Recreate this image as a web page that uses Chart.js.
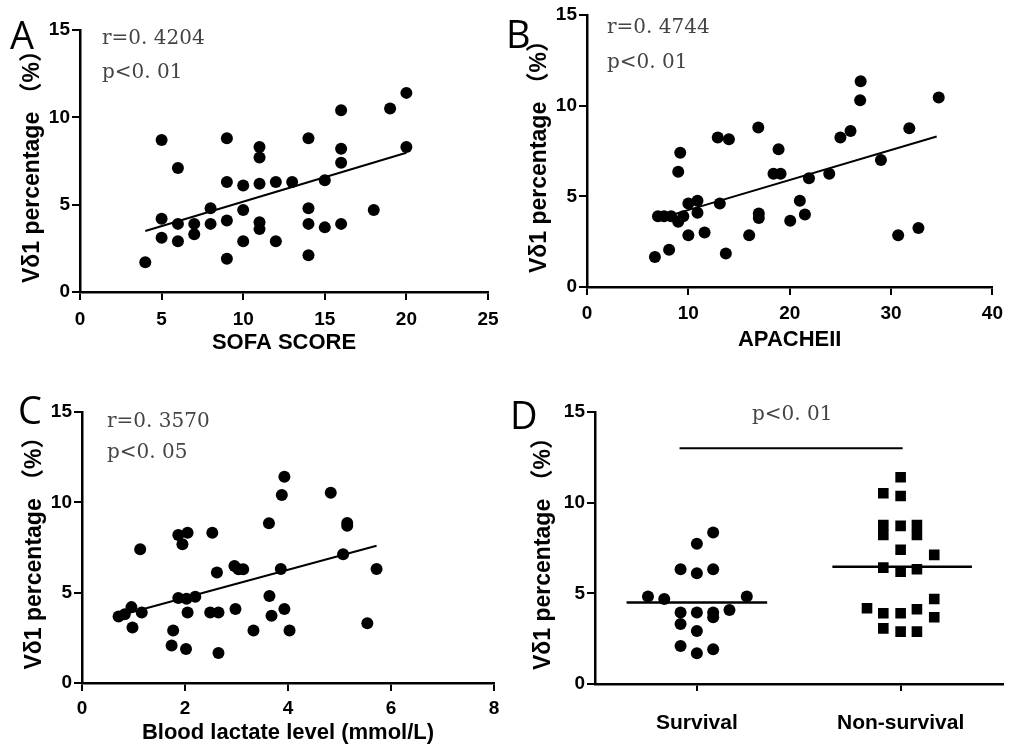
<!DOCTYPE html>
<html><head><meta charset="utf-8">
<script src="https://cdn.jsdelivr.net/npm/chart.js@4.4.0/dist/chart.umd.min.js"></script>
<style>
html,body{margin:0;padding:0;background:#fff;}
body{width:1010px;height:746px;position:relative;overflow:hidden;}
canvas{position:absolute;}
</style></head><body>
<canvas id="cA" width="508" height="360" style="left:0;top:0"></canvas>
<canvas id="cB" width="505" height="360" style="left:505px;top:0"></canvas>
<canvas id="cC" width="514" height="366" style="left:0;top:380px"></canvas>
<canvas id="cD" width="505" height="366" style="left:505px;top:380px"></canvas>
<script>
// ---------------- data ----------------
const yTicks = [0, 5, 10, 15];
const yTitle = 'Vδ1 percentage （%）';

// A: SOFA score
const sofaX = [4,5,5,5,6,6,6,7,7,8,8,9,9,9,9,10,10,10,11,11,11,11,11,12,12,13,14,14,14,14,15,15,16,16,16,16,18,19,20,20];
const sofaY = [1.7,8.7,4.2,3.1,7.1,3.9,2.9,3.9,3.3,4.8,3.9,8.8,6.3,4.1,1.9,6.1,4.7,2.9,8.3,7.7,6.2,4.0,3.6,6.3,2.9,6.3,8.8,4.8,3.9,2.1,6.4,3.7,10.4,8.2,7.4,3.9,4.7,10.5,11.4,8.3];
const sofaFitX = [4, 20];
const sofaFitY = [3.49, 7.97];

// B: APACHE II
const apacheX = [6.7,8.1,9.2,9.0,7.0,7.6,8.3,9.0,9.5,10.0,10.9,10.9,10.0,11.6,13.1,12.9,14.0,13.7,16.0,16.9,16.95,16.95,18.9,18.4,19.1,20.05,21.0,21.5,21.9,23.9,25.0,26.0,27.0,26.95,29.0,30.7,32.7,31.8,34.7];
const apacheY = [1.65,2.05,7.4,6.35,3.9,3.9,3.9,3.6,3.9,4.6,4.75,4.1,2.85,3.0,4.6,8.25,8.15,1.85,2.85,8.8,4.05,3.8,7.6,6.25,6.25,3.65,4.75,4.0,6.0,6.25,8.25,8.6,11.35,10.3,7.0,2.85,3.25,8.75,10.45];
const apacheFitX = [6.7, 34.5];
const apacheFitY = [3.70, 8.30];

// C: blood lactate
const lactateX = [0.71,0.83,0.96,0.98,1.16,1.13,1.87,2.05,1.95,1.87,2.03,2.2,2.05,1.77,1.74,2.02,2.53,2.62,2.49,2.65,2.65,2.96,3.04,3.13,2.98,3.33,3.93,3.88,4.83,3.63,5.15,5.15,3.86,5.07,5.72,3.64,3.68,3.93,4.03,5.54];
const lactateY = [3.68,3.81,4.2,3.07,3.9,7.4,8.19,8.32,7.68,4.7,4.66,4.78,3.9,2.9,2.08,1.88,8.32,6.11,3.9,3.9,1.66,6.48,6.3,6.3,4.09,2.9,11.41,10.4,10.53,8.84,8.85,8.7,6.31,7.12,6.31,4.82,3.72,4.09,2.9,3.31];
const lactateFitX = [0.71, 5.72];
const lactateFitY = [3.72, 7.60];

// D: outcome groups (x = group position 1 / 3 with the scatter spread)
const groupLabels = ['Survival', 'Non-survival'];
const groupPos = [1, 3];
const survivalX = [0.52,0.68,1.49,1.0,1.16,0.84,1.0,1.16,0.84,1.0,1.16,1.16,1.32,0.84,1.0,0.84,1.0,1.16];
const survivalY = [4.82,4.69,4.82,7.73,8.35,6.33,6.11,6.33,3.94,3.94,3.94,3.68,4.08,3.31,2.92,2.1,1.69,1.91];
const nonSurvivalX = [3.0,2.83,3.0,2.83,2.83,3.0,3.16,3.16,3.0,3.33,2.83,3.0,3.16,2.67,3.33,2.83,3.0,3.16,3.33,2.83,3.0,3.16];
const nonSurvivalY = [11.4,10.52,10.37,8.77,8.22,8.72,8.77,8.22,7.4,7.12,6.42,6.2,6.33,4.18,4.69,3.9,3.9,4.12,3.68,3.07,2.89,2.89];
const survivalMedX = [0.31, 1.69];
const survivalMedY = [4.5, 4.5];
const nonSurvivalMedX = [2.33, 3.70];
const nonSurvivalMedY = [6.46, 6.46];
const sigX = [0.83, 3.02];
const sigY = [13, 13];

// ---------------- helpers ----------------
const SANS = '"Liberation Sans", Arial, "Noto Sans CJK SC", sans-serif';
const SERIF = '"DejaVu Serif", "Liberation Serif", serif';
const pts = (xs, ys) => xs.map((x, i) => ({x: x, y: ys[i]}));

const notesPlugin = {
  id: 'notes',
  afterDatasetsDraw(chart, args, opts) {
    const ctx = chart.ctx, ca = chart.chartArea;
    (opts.items || []).forEach(it => {
      ctx.save();
      ctx.font = it.font;
      ctx.fillStyle = it.color || '#000';
      ctx.textAlign = it.align || 'left';
      ctx.textBaseline = it.baseline || 'middle';
      const x = it.abs ? it.x : ca.left + it.x;
      const y = it.abs ? it.y : ca.top + it.y;
      ctx.fillText(it.text, x, y);
      ctx.restore();
    });
  }
};

function yScale(width, titlePad) {
  return {
    type: 'linear', min: 0, max: 15,
    afterBuildTicks: s => { s.ticks = yTicks.map(v => ({value: v})); },
    ticks: {color: '#000', font: {family: SANS, size: 19, weight: 'bold'}, padding: 2},
    grid: {display: true, drawOnChartArea: false, drawTicks: true, tickLength: 8, color: '#000', lineWidth: 2},
    border: {display: true, color: '#000', width: 2.5},
    title: {display: true, text: yTitle, color: '#000', font: {family: SANS, size: 23, weight: 'bold'}, padding: {top: titlePad, bottom: 0}},
    afterFit: s => { s.width = width; }
  };
}
function xScale(min, max, step, height, title, titlePad, tickPad) {
  return {
    type: 'linear', min: min, max: max,
    ticks: {stepSize: step, color: '#000', font: {family: SANS, size: 19, weight: 'bold'}, padding: tickPad},
    grid: {display: true, drawOnChartArea: false, drawTicks: true, tickLength: 8, color: '#000', lineWidth: 2},
    border: {display: true, color: '#000', width: 2.5},
    title: {display: !!title, text: title, color: '#000', font: {family: SANS, size: 22, weight: 'bold'}, padding: {top: 0, bottom: titlePad}},
    afterFit: s => { s.height = height; }
  };
}
function dotSet(data) {
  return {type: 'scatter', data: data, pointStyle: 'circle', pointRadius: 6, pointBackgroundColor: '#000', pointBorderColor: '#000', pointBorderWidth: 0, showLine: false, order: 0};
}
function lineSet(data, w) {
  return {type: 'line', data: data, borderColor: '#000', borderWidth: w || 2, pointRadius: 0, showLine: true, fill: false, order: 1};
}
function baseOptions(scales, padding, notes) {
  return {
    responsive: false, animation: false, devicePixelRatio: 1,
    layout: {padding: padding},
    scales: scales,
    plugins: {legend: {display: false}, tooltip: {enabled: false}, notes: {items: notes}},
    events: []
  };
}
const noteFont = '20px ' + SERIF;
const letterFont = '38px "Open Sans", "Liberation Sans", sans-serif';

// ---------------- A ----------------
new Chart(document.getElementById('cA'), {
  type: 'scatter',
  data: {datasets: [dotSet(pts(sofaX, sofaY)), lineSet(pts(sofaFitX, sofaFitY))]},
  options: baseOptions({x: xScale(0, 25, 5, 68, 'SOFA SCORE', 4, 8), y: yScale(80, 19)},
    {left: 0, right: 20, top: 30, bottom: 0},
    [{text: 'r=0. 4204', x: 22, y: 9, font: noteFont, color: '#444'},
     {text: 'p<0. 01', x: 22, y: 43, font: noteFont, color: '#444'},
     {text: 'A', x: 10, y: 49, abs: true, font: letterFont, baseline: 'alphabetic'}]),
  plugins: [notesPlugin]
});

// ---------------- B ----------------
new Chart(document.getElementById('cB'), {
  type: 'scatter',
  data: {datasets: [dotSet(pts(apacheX, apacheY)), lineSet(pts(apacheFitX, apacheFitY))]},
  options: baseOptions({x: xScale(0, 40, 10, 73, 'APACHEII', 7, 7), y: yScale(82, 21)},
    {left: 0, right: 12, top: 15, bottom: 0},
    [{text: 'r=0. 4744', x: 20, y: 13, font: noteFont, color: '#444'},
     {text: 'p<0. 01', x: 20, y: 48, font: noteFont, color: '#444'},
     {text: 'B', x: 1, y: 48, abs: true, font: letterFont, baseline: 'alphabetic'}]),
  plugins: [notesPlugin]
});

// ---------------- C ----------------
new Chart(document.getElementById('cC'), {
  type: 'scatter',
  data: {datasets: [dotSet(pts(lactateX, lactateY)), lineSet(pts(lactateFitX, lactateFitY))]},
  options: baseOptions({x: xScale(0, 8, 2, 63, 'Blood lactate level (mmol/L)', 0, 6), y: yScale(82, 21)},
    {left: 0, right: 20, top: 32, bottom: 0},
    [{text: 'r=0. 3570', x: 25, y: 10, font: noteFont, color: '#444'},
     {text: 'p<0. 05', x: 25, y: 41, font: noteFont, color: '#444'},
     {text: 'C', x: 18, y: 44, abs: true, font: letterFont, baseline: 'alphabetic'}]),
  plugins: [notesPlugin]
});

// ---------------- D ----------------
const xD = xScale(0, 4, 1, 62, '', 0, 20);
xD.afterBuildTicks = s => { s.ticks = groupPos.map(v => ({value: v})); };
xD.ticks = {color: '#000', font: {family: SANS, size: 21, weight: 'bold'}, padding: 20,
  callback: v => { const i = groupPos.indexOf(v); return i >= 0 ? groupLabels[i] : ''; }};
xD.grid.tickLength = 7;
new Chart(document.getElementById('cD'), {
  type: 'scatter',
  data: {datasets: [
    dotSet(pts(survivalX, survivalY)),
    Object.assign(dotSet(pts(nonSurvivalX, nonSurvivalY)), {pointStyle: 'rect', pointRadius: 7.5}),
    lineSet(pts(survivalMedX, survivalMedY), 2.5),
    lineSet(pts(nonSurvivalMedX, nonSurvivalMedY), 2.5),
    lineSet(pts(sigX, sigY), 1.8)
  ]},
  options: baseOptions({x: xD, y: yScale(90, 25)},
    {left: 0, right: 7, top: 32, bottom: 0},
    [{text: 'p<0. 01', x: 157, y: 3, font: noteFont, color: '#444'},
     {text: 'D', x: 5, y: 49, abs: true, font: letterFont, baseline: 'alphabetic'}]),
  plugins: [notesPlugin]
});
</script>
</body></html>
